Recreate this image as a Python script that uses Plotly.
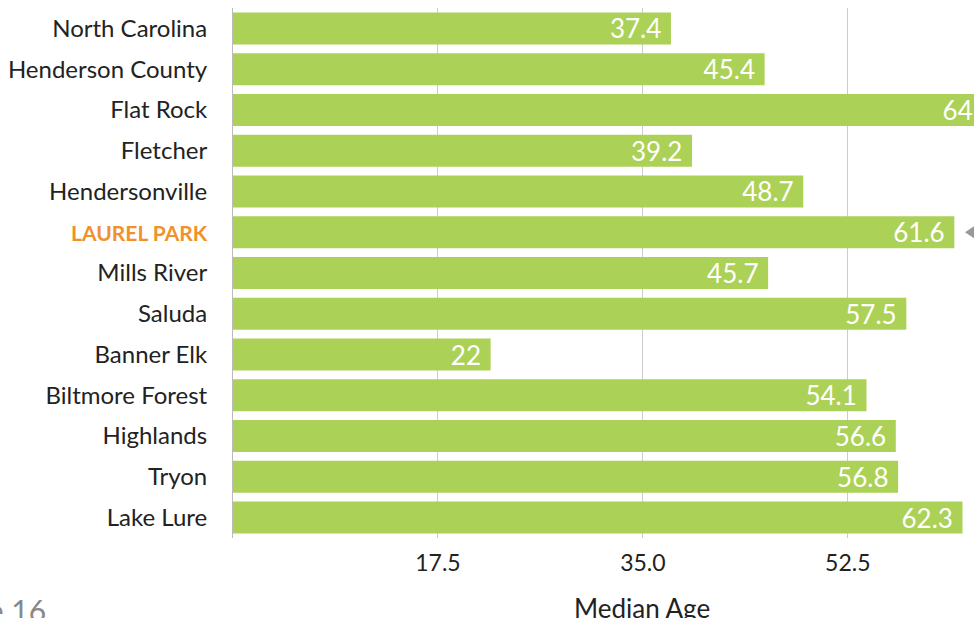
import plotly.graph_objects as go

places = ["North Carolina", "Henderson County", "Flat Rock", "Fletcher", "Hendersonville",
          "LAUREL PARK", "Mills River", "Saluda", "Banner Elk", "Biltmore Forest",
          "Highlands", "Tryon", "Lake Lure"]
median_age = [37.4, 45.4, 64, 39.2, 48.7, 61.6, 45.7, 57.5, 22, 54.1, 56.6, 56.8, 62.3]
labels = ["37.4", "45.4", "64", "39.2", "48.7", "61.6", "45.7", "57.5", "22", "54.1", "56.6", "56.8", "62.3"]
tick_vals = [17.5, 35.0, 52.5]
tick_text = ["17.5", "35.0", "52.5"]
highlight = "LAUREL PARK"

ytext = [f"<span style='color:#F0922B;font-size:21px'><b>{p}</b></span>" if p == highlight else p
         for p in places]

fig = go.Figure(go.Bar(
    x=median_age, y=places, orientation="h",
    marker=dict(color="#ACD157", line=dict(width=0)),
    text=labels, texttemplate="%{text}\u00a0", textposition="inside", insidetextanchor="end",
    textangle=0, constraintext="none",
    textfont=dict(family="Lato", size=26, color="white"),
    hoverinfo="skip", cliponaxis=True,
))

W, H = 974, 618
L, R, T, B = 233, 0, 8, 80
fig.update_layout(
    width=W, height=H,
    margin=dict(l=L, r=R, t=T, b=B, pad=0),
    paper_bgcolor="white", plot_bgcolor="white",
    bargap=0.215, showlegend=False,
    font=dict(family="Lato", color="#222222"),
    uniformtext=dict(mode=False),
    xaxis=dict(range=[0, 63.28], tickvals=tick_vals, ticktext=tick_text,
               showgrid=True, gridcolor="#CCCCCC", gridwidth=1,
               zeroline=False, showline=False, ticks="",
               tickfont=dict(family="Lato", size=23, color="#222222"),
               ticklabelstandoff=9, fixedrange=True),
    yaxis=dict(categoryorder="array", categoryarray=places, autorange="reversed",
               tickvals=places, ticktext=ytext,
               showline=True, linecolor="#BBBBBB", linewidth=1,
               showgrid=False, ticks="", ticklabelstandoff=20,
               tickfont=dict(family="Lato", size=24, color="#222222")),
)

plot_h = H - T - B
plot_w = W - L - R

fig.add_annotation(text="Median Age", xref="paper", yref="paper",
                   x=(642 - L) / plot_w, y=-(608 - (H - B)) / plot_h,
                   xanchor="center", yanchor="middle", showarrow=False,
                   font=dict(family="Lato", size=26, color="#222222"))
fig.add_annotation(text="Page 16", xref="paper", yref="paper",
                   x=-(L - 48) / plot_w, y=-(610 - (H - B)) / plot_h,
                   xanchor="right", yanchor="middle", showarrow=False,
                   font=dict(family="Lato", size=30, color="#888888"))

# grey pointer triangle next to highlighted row
ly = 1 - (places.index(highlight) + 0.5) / len(places)
tipx = (965 - L) / plot_w
basex = (977 - L) / plot_w
dy = 8 / plot_h
fig.add_shape(type="path", xref="paper", yref="paper",
              path=f"M {tipx} {ly} L {basex} {ly + dy} L {basex} {ly - dy} Z",
              fillcolor="#999999", line=dict(width=0))

fig.write_html("out.html")
